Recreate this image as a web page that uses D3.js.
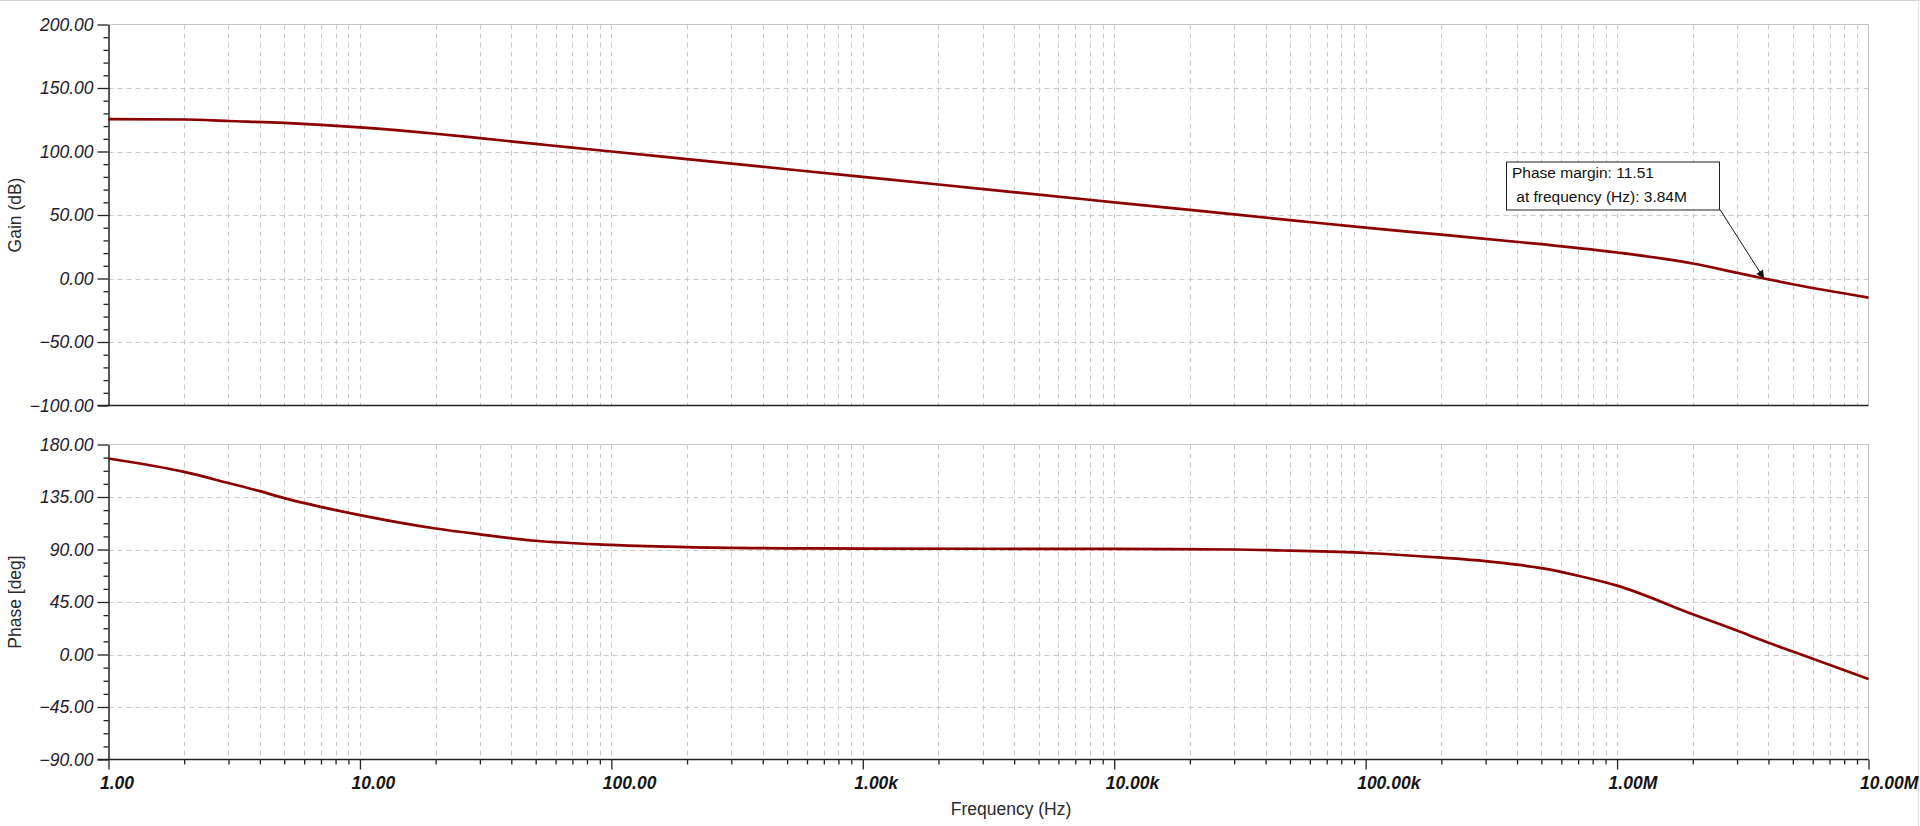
<!DOCTYPE html>
<html>
<head>
<meta charset="utf-8">
<script src="https://cdn.jsdelivr.net/npm/d3@7/dist/d3.min.js"></script>
<style>
  html, body { margin: 0; padding: 0; background: #ffffff; }
  svg { display: block; font-family: "Liberation Sans", Arial, sans-serif; }
</style>
</head>
<body>
<svg id="chart" width="1920" height="826"></svg>
<script>
// ---- data ----
const gainFreqs = [1, 2, 3, 5, 7, 10, 20, 30, 50, 70, 100, 200, 500, 1e3, 2e3, 5e3, 1e4, 2e4, 5e4, 1e5, 2e5, 5e5, 1e6, 2e6, 3e6, 3.84e6, 5e6, 1e7];
const gainDb    = [125.5, 125.2, 124, 122.5, 121, 119, 114, 110.5, 106, 103, 100, 94, 86, 80, 74, 66, 60, 54, 46, 40, 34.5, 27, 20.5, 11.8, 4.5, 0, -4.5, -15];

const phaseFreqs = [1, 2, 3, 4, 5, 7, 10, 20, 30, 50, 100, 200, 500, 1e3, 1e4, 3e4, 5e4, 1e5, 2e5, 3e5, 4e5, 5e5, 7e5, 1e6, 2e6, 3e6, 3.84e6, 5e6, 1e7];
const phaseDeg   = [168, 156.5, 147, 140, 134, 126.5, 119.5, 108, 103, 97.5, 94, 92, 91, 90.8, 90.5, 90, 89, 87, 83, 80, 77, 74, 67.5, 59, 34.5, 20.5, 11.5, 2.5, -21];

const xTickValues = [1, 10, 100, 1e3, 1e4, 1e5, 1e6, 1e7];
const xTickLabels = ["1.00", "10.00", "100.00", "1.00k", "10.00k", "100.00k", "1.00M", "10.00M"];
const gainTicks  = [-100, -50, 0, 50, 100, 150, 200];
const phaseTicks = [-90, -45, 0, 45, 90, 135, 180];

const marker = { freq: 3.84e6, gain: 0, lines: ["Phase margin: 11.51", " at frequency (Hz): 3.84M"] };

// ---- layout ----
const svg = d3.select("#chart");
const X0 = 108.5, X1 = 1868.5;
const topBox = { y0: 24.5, y1: 405.5 };
const botBox = { y0: 444.5, y1: 759.5 };

const x = d3.scaleLog().domain([1, 1e7]).range([X0, X1]);
const yG = d3.scaleLinear().domain([-100, 200]).range([topBox.y1, topBox.y0]);
const yP = d3.scaleLinear().domain([-90, 180]).range([botBox.y1, botBox.y0]);

// minor frequency values (1..9 × decade)
const gridFreqs = [];
for (let d = 0; d < 7; d++) for (let m = 1; m <= 9; m++) gridFreqs.push(m * Math.pow(10, d));
gridFreqs.push(1e7);

// window frame lines
svg.append("line").attr("x1", 0).attr("x2", 1920).attr("y1", 0.5).attr("y2", 0.5).attr("stroke", "#d4d4d4");
svg.append("line").attr("x1", 1918.5).attr("x2", 1918.5).attr("y1", 0).attr("y2", 826).attr("stroke", "#e0e0e0");

function panel(yScale, box, majorTicks, minorStep, title, data) {
  const g = svg.append("g");
  // grid
  g.append("g").selectAll("line").data(gridFreqs.filter(f => f > 1 && f < 1e7)).join("line")
    .attr("x1", d => Math.round(x(d)) + 0.5).attr("x2", d => Math.round(x(d)) + 0.5)
    .attr("y1", box.y0).attr("y2", box.y1)
    .attr("stroke", "#c9c9c9").attr("stroke-dasharray", "5,4");
  g.append("g").selectAll("line").data(majorTicks.slice(1, -1)).join("line")
    .attr("x1", X0).attr("x2", X1)
    .attr("y1", d => Math.round(yScale(d)) + 0.5).attr("y2", d => Math.round(yScale(d)) + 0.5)
    .attr("stroke", "#c9c9c9").attr("stroke-dasharray", "5,4");
  // top/right frame
  g.append("line").attr("x1", X0).attr("x2", X1).attr("y1", box.y0).attr("y2", box.y0).attr("stroke", "#c4c4c4");
  g.append("line").attr("x1", X1).attr("x2", X1).attr("y1", box.y0).attr("y2", box.y1).attr("stroke", "#c4c4c4");

  // minor y ticks
  const [lo, hi] = yScale.domain();
  const minor = d3.range(lo, hi + 0.001, minorStep).filter(v => !majorTicks.includes(v));
  g.append("g").attr("transform", `translate(${X0},0)`)
    .call(d3.axisLeft(yScale).tickValues(minor).tickSize(5).tickFormat(""))
    .call(s => s.select(".domain").remove())
    .call(s => s.selectAll("line").attr("stroke", "#222").attr("stroke-width", 1.3));
  // major y axis
  g.append("g").attr("transform", `translate(${X0},0)`)
    .call(d3.axisLeft(yScale).tickValues(majorTicks).tickSize(11).tickSizeOuter(0).tickPadding(4).tickFormat(d3.format(".2f")))
    .call(s => s.select(".domain").attr("stroke", "#222").attr("stroke-width", 1.5))
    .call(s => s.selectAll("line").attr("stroke", "#222").attr("stroke-width", 1.3))
    .call(s => s.selectAll("text").attr("font-size", "17.5px").attr("font-style", "italic")
      .attr("fill", "#1e2030").attr("font-family", "'Liberation Sans', Arial, sans-serif"));

  // bottom axis line
  g.append("line").attr("x1", X0 - 11).attr("x2", X1).attr("y1", box.y1).attr("y2", box.y1)
    .attr("stroke", "#222").attr("stroke-width", 1.5);

  // y title
  g.append("text").attr("transform", `translate(21,${(box.y0 + box.y1) / 2}) rotate(-90)`)
    .attr("text-anchor", "middle").attr("font-size", "17.5px").attr("fill", "#2a2a2a").text(title);

  // curve
  const line = d3.line().x(d => x(d[0])).y(d => yScale(d[1])).curve(d3.curveMonotoneX);
  g.append("path").datum(data).attr("d", line)
    .attr("fill", "none").attr("stroke", "#8b0000").attr("stroke-width", 2.7).attr("stroke-linejoin", "round");
  return g;
}

panel(yG, topBox, gainTicks, 10, "Gain (dB)", gainFreqs.map((f, i) => [f, gainDb[i]]));
panel(yP, botBox, phaseTicks, 11.25, "Phase [deg]", phaseFreqs.map((f, i) => [f, phaseDeg[i]]));

// x axis (bottom panel)
const minorX = gridFreqs.filter(f => !xTickValues.includes(f));
svg.append("g").attr("transform", `translate(0,${botBox.y1})`)
  .call(d3.axisBottom(x).tickValues(minorX).tickSize(5).tickFormat(""))
  .call(s => s.select(".domain").remove())
  .call(s => s.selectAll("line").attr("stroke", "#222").attr("stroke-width", 1.3));
svg.append("g").attr("transform", `translate(0,${botBox.y1})`)
  .call(d3.axisBottom(x).tickValues(xTickValues).tickSize(10).tickFormat((d, i) => xTickLabels[i]))
  .call(s => s.select(".domain").remove())
  .call(s => s.selectAll("line").attr("stroke", "#222").attr("stroke-width", 1.3))
  .call(s => s.selectAll("text").attr("text-anchor", "start").attr("x", -9).attr("y", 29).attr("dy", null)
    .attr("font-size", "17.5px").attr("font-style", "italic").attr("font-weight", "bold")
    .attr("fill", "#141414").attr("font-family", "'Liberation Sans', Arial, sans-serif"));

svg.append("text").attr("x", 1011).attr("y", 815).attr("text-anchor", "middle")
  .attr("font-size", "17.5px").attr("fill", "#2a2a2a").text("Frequency (Hz)");

// annotation
const tipX = x(marker.freq), tipY = yG(marker.gain);
const bx = tipX - 258, by = tipY - 117, bw = 213, bh = 48;
svg.append("defs").append("marker").attr("id", "arr").attr("viewBox", "0 0 10 10")
  .attr("refX", 10).attr("refY", 5).attr("markerWidth", 12).attr("markerHeight", 8).attr("orient", "auto")
  .attr("markerUnits", "userSpaceOnUse")
  .append("path").attr("d", "M0,0 L10,5 L0,10 Z").attr("fill", "#111");
svg.append("line").attr("x1", bx + bw + 1).attr("y1", by + bh).attr("x2", tipX).attr("y2", tipY)
  .attr("stroke", "#111").attr("stroke-width", 1).attr("marker-end", "url(#arr)");
svg.append("rect").attr("x", bx + 0.5).attr("y", by + 0.5).attr("width", bw).attr("height", bh)
  .attr("fill", "#fff").attr("stroke", "#222").attr("stroke-width", 1);
svg.append("text").attr("x", bx + 6).attr("y", by + 16).attr("font-size", "15.5px").attr("fill", "#111")
  .attr("xml:space", "preserve").style("white-space", "pre").text(marker.lines[0]);
svg.append("text").attr("x", bx + 6).attr("y", by + 40).attr("font-size", "15.5px").attr("fill", "#111")
  .attr("xml:space", "preserve").style("white-space", "pre").text(marker.lines[1]);
</script>
</body>
</html>
